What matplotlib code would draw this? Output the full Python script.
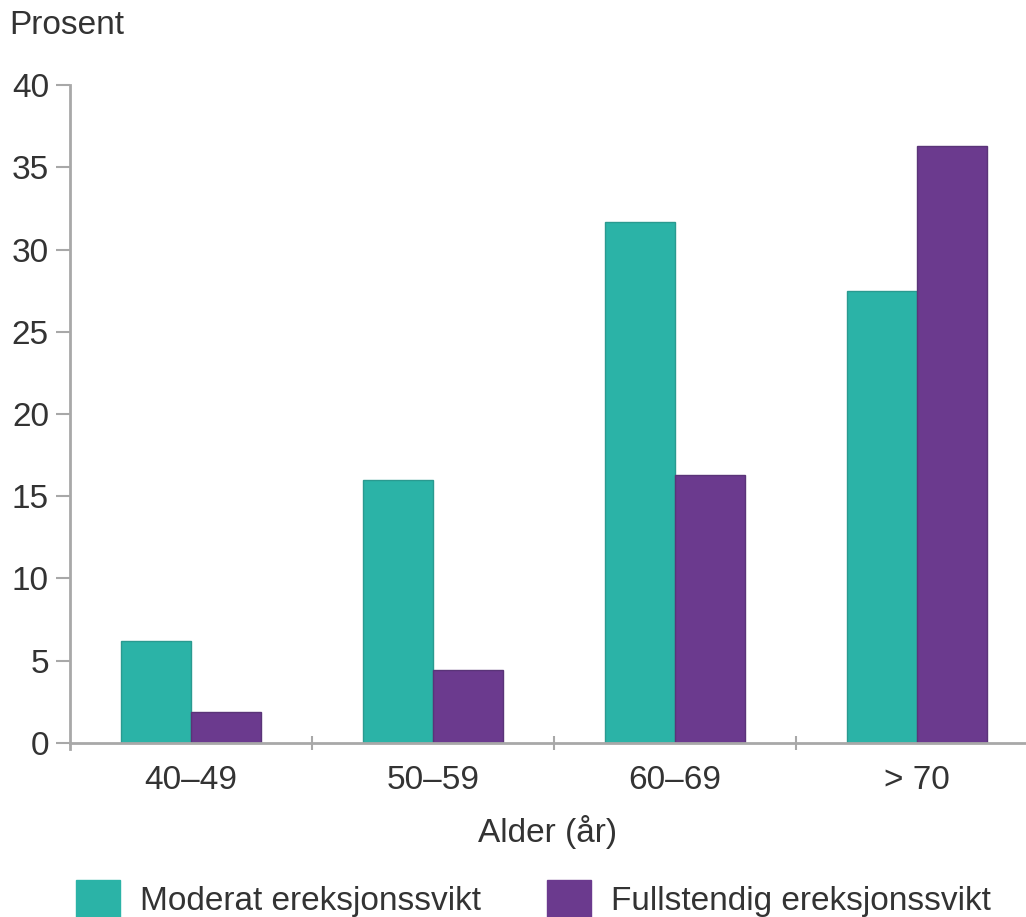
import numpy as np
import matplotlib.pyplot as plt
from matplotlib.patches import Patch

plt.rcParams["font.family"] = ["Liberation Sans", "DejaVu Sans"]

aldersgrupper = ["40–49", "50–59", "60–69", "> 70"]
moderat = [6.2, 16.0, 31.7, 27.5]
fullstendig = [1.9, 4.4, 16.3, 36.3]
serier = ["Moderat ereksjonssvikt", "Fullstendig ereksjonssvikt"]

teal = "#2bb3a7"
lilla = "#6b3a8e"
grå = "#a8a8a8"
tekst = "#333333"
fs = 24

fig = plt.figure(figsize=(10.26, 9.17), dpi=100)
ax = fig.add_axes([0.068, 0.190, 0.932, 0.717])

x = np.arange(len(aldersgrupper))
b = 0.29
ax.bar(x - b/2, moderat, b, color=teal, edgecolor="#2a9a90", lw=1)
ax.bar(x + b/2, fullstendig, b, color=lilla, edgecolor="#5a3478", lw=1)

ax.set_xlim(-0.5, 3.45)
ax.set_ylim(0, 40)
ax.set_yticks(range(0, 41, 5))
ax.set_xticks(x)
ax.set_xticklabels(aldersgrupper)
ax.set_xticks(x[:-1] + 0.5, minor=True)

for s in ["top", "right"]:
    ax.spines[s].set_visible(False)
for s in ["left", "bottom"]:
    ax.spines[s].set_color(grå)
    ax.spines[s].set_linewidth(2)
ax.spines["left"].set_bounds(-0.4, 40)

ax.tick_params(axis="y", length=10, width=1.5, color=grå, labelsize=fs,
               labelcolor=tekst, pad=5)
ax.tick_params(axis="x", which="major", length=0, labelsize=fs,
               labelcolor=tekst, pad=16)
ax.tick_params(axis="x", which="minor", length=10, width=1.5, color=grå,
               direction="inout")

ax.set_xlabel("Alder (år)", fontsize=fs, color=tekst, labelpad=14)
fig.text(0.009, 0.972, "Prosent", fontsize=fs, color=tekst, va="center")

handles = [Patch(facecolor=teal, edgecolor=teal), Patch(facecolor=lilla, edgecolor=lilla)]
fig.legend(handles, serier, loc="center", bbox_to_anchor=(0.52, 0.02), ncol=2,
           frameon=False, fontsize=fs, handlelength=1.3, handleheight=1.3,
           columnspacing=2.0, handletextpad=0.6, labelcolor=tekst)

fig.savefig("out.png", dpi=100)
